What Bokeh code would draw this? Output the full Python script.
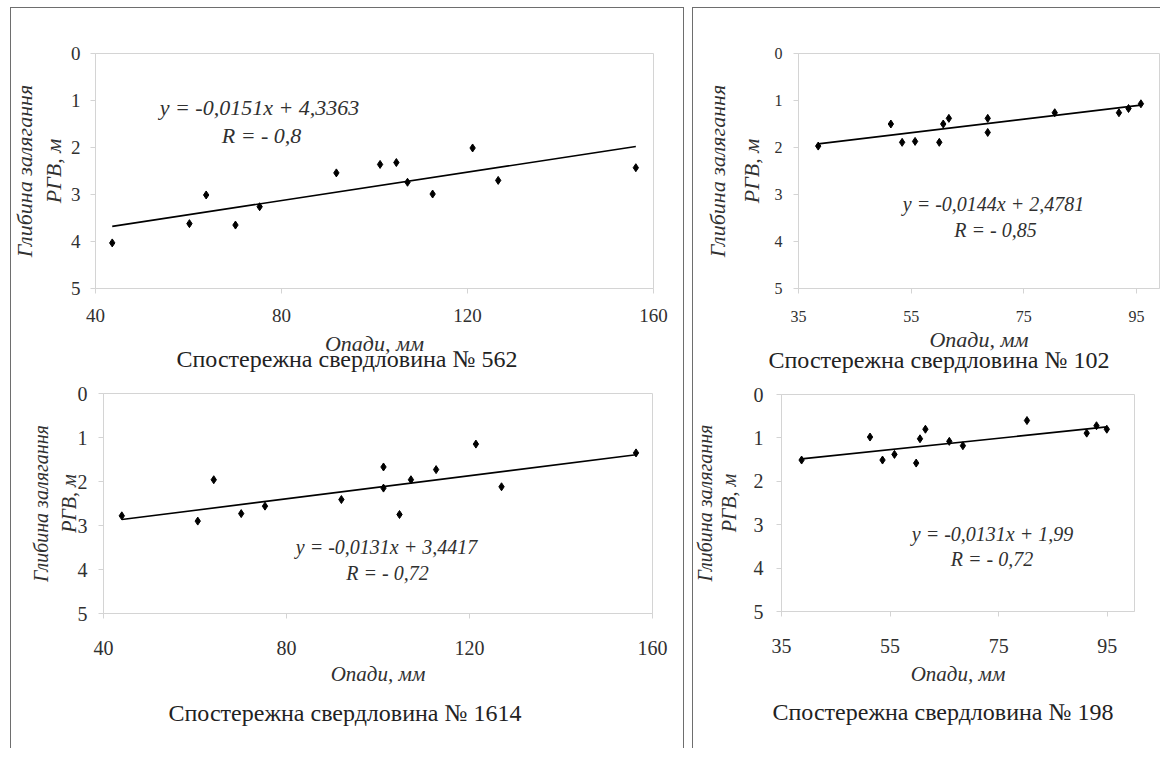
from bokeh.plotting import figure
from bokeh.models import Range1d, FixedTicker, Label, Title
from bokeh.layouts import row, column
from bokeh.embed import file_html
from bokeh.resources import INLINE

# ---------------- data ----------------
x_562 = [43.6, 60.2, 63.8, 70.1, 75.3, 91.8, 101.2, 104.7, 107.1, 112.5, 121.1, 126.6, 156.2]
y_562 = [4.03, 3.62, 3.01, 3.65, 3.26, 2.54, 2.36, 2.32, 2.74, 2.99, 2.01, 2.70, 2.43]
fit_562 = (-0.0151, 4.3363)

x_102 = [38.5, 51.4, 53.4, 55.7, 60.0, 60.7, 61.7, 68.6, 68.6, 80.5, 91.9, 93.6, 95.8]
y_102 = [1.97, 1.50, 1.89, 1.87, 1.89, 1.50, 1.38, 1.38, 1.68, 1.26, 1.26, 1.17, 1.07]
fit_102 = (-0.0144, 2.4781)

x_1614 = [44.0, 60.6, 64.1, 70.1, 75.3, 92.0, 101.2, 101.2, 104.7, 107.2, 112.7, 121.4, 127.0, 156.4]
y_1614 = [2.78, 2.90, 1.96, 2.73, 2.56, 2.41, 1.67, 2.15, 2.75, 1.96, 1.73, 1.15, 2.12, 1.35]
fit_1614 = (-0.0131, 3.4417)

x_198 = [38.7, 51.3, 53.6, 55.8, 59.8, 60.5, 61.5, 65.9, 68.4, 80.2, 91.2, 93.0, 94.9]
y_198 = [1.51, 0.98, 1.51, 1.38, 1.58, 1.02, 0.80, 1.08, 1.18, 0.60, 0.89, 0.72, 0.80]
fit_198 = (-0.0131, 1.99)

xticks_a = [40, 80, 120, 160]
xticks_b = [35, 55, 75, 95]
yticks = [0, 1, 2, 3, 4, 5]

eq_562 = ["y = -0,0151x + 4,3363", "R = - 0,8"]
eq_102 = ["y = -0,0144x + 2,4781", "R = - 0,85"]
eq_1614 = ["y = -0,0131x + 3,4417", "R = - 0,72"]
eq_198 = ["y = -0,0131x + 1,99", "R = -  0,72"]

title_562 = "Спостережна свердловина № 562"
title_102 = "Спостережна свердловина № 102"
title_1614 = "Спостережна свердловина № 1614"
title_198 = "Спостережна свердловина № 198"

x_title = "Опади, мм"
y_title = "Глибина залягання\nРГВ, м"

SERIF = "Liberation Serif"
LIGHT = "#d4d4d4"
TXT = "#303030"


def eq_label(p, text, x, y, size):
    p.add_layout(Label(x=x, y=y, x_units="screen", y_units="screen", text=text,
                       text_font=SERIF, text_font_size=f"{size}px", text_font_style="italic",
                       text_color=TXT, text_align="center", text_baseline="middle"))


def panel(xs, ys, fit, xr, xt, eq, title, g):
    p = figure(width=g["w"], height=g["h"], output_backend="svg", toolbar_location=None,
               x_range=Range1d(*xr), y_range=Range1d(5, 0), frame_align=False,
               min_border_left=g["bl"], min_border_right=g["br"],
               min_border_top=g["bt"], min_border_bottom=g["bb"],
               background_fill_color=None, border_fill_color=None)
    p.grid.visible = False
    p.outline_line_color = LIGHT
    p.outline_line_width = 1
    xa, ya = p.xaxis[0], p.yaxis[0]
    for ax, ticks, st in ((xa, xt, g["xst"]), (ya, yticks, g["yst"])):
        ax.ticker = FixedTicker(ticks=ticks)
        ax.axis_line_color = LIGHT
        ax.major_tick_line_color = LIGHT
        ax.major_tick_out = 5
        ax.major_tick_in = 0
        ax.minor_tick_line_color = None
        ax.major_label_text_font = SERIF
        ax.major_label_text_font_size = f"{g['tfs']}px"
        ax.major_label_text_color = TXT
        ax.major_label_standoff = st
        ax.axis_label_text_font = SERIF
        ax.axis_label_text_font_style = "italic"
        ax.axis_label_text_color = TXT
    xa.axis_label = x_title
    xa.axis_label_text_font_size = f"{g['xlfs']}px"
    xa.axis_label_standoff = g["xls"]
    ya.axis_label = y_title
    ya.axis_label_text_font_size = f"{g['ylfs']}px"
    ya.axis_label_standoff = g["yls"]
    ya.axis_label_text_line_height = g["ylh"]

    m, b = fit
    lx = [min(xs), max(xs)]
    ly = [m * v + b for v in lx]
    p.line(lx, ly, line_color="black", line_width=1.6)
    p.scatter(xs, ys, marker="diamond", size=8, color="black")

    e = g["eq"]
    eq_label(p, eq[0], e[0], e[1], g["efs"])
    eq_label(p, eq[1], e[2], e[3], g["efs"])

    p.add_layout(Title(text=title, align="left", offset=g["toff"], standoff=g["tst"],
                       vertical_align="middle", text_font=SERIF, text_font_size="24px",
                       text_font_style="normal", text_color="#222222"), "below")
    return p


g1 = dict(w=684, h=380, bl=95, br=31, bt=53, bb=92, tfs=19, xst=15, yst=10,
          xlfs=22, xls=6, ylfs=22, yls=2, ylh=1.17, efs=22,
          eq=(164, 181, 166, 153), toff=81, tst=-31)
g2 = dict(w=476, h=380, bl=114, br=1, bt=53, bb=92, tfs=16, xst=17, yst=11,
          xlfs=22, xls=2, ylfs=22, yls=8, ylh=1.36, efs=20,
          eq=(195, 85, 197, 59), toff=-30, tst=-17)
g3 = dict(w=684, h=368, bl=103, br=32, bt=13, bb=135, tfs=20, xst=22, yst=11,
          xlfs=21, xls=4, ylfs=20, yls=-5, ylh=1.24, efs=20,
          eq=(283, 67, 284, 41), toff=65, tst=20)
g4 = dict(w=476, h=368, bl=97, br=26, bt=14, bb=137, tfs=20, xst=22, yst=13,
          xlfs=21, xls=6, ylfs=20, yls=11, ylh=1.07, efs=20,
          eq=(211, 78, 213, 53), toff=-9, tst=18)

p1 = panel(x_562, y_562, fit_562, (40, 160), xticks_a, eq_562, title_562, g1)
p2 = panel(x_102, y_102, fit_102, (35, 99.1), xticks_b, eq_102, title_102, g2)
p3 = panel(x_1614, y_1614, fit_1614, (40, 160), xticks_a, eq_1614, title_1614, g3)
p4 = panel(x_198, y_198, fit_198, (35, 100), xticks_b, eq_198, title_198, g4)

LINE = "#6e6e6e"
left_shadow = (f"inset 10px 0 0 0 #ffffff, inset 0 7px 0 0 #ffffff, "
               f"inset 11px 0 0 0 {LINE}, inset 0 8px 0 0 {LINE}, inset -1px 0 0 0 {LINE}")
right_shadow = (f"inset 8px 0 0 0 #ffffff, inset 0 7px 0 0 #ffffff, "
                f"inset 9px 0 0 0 {LINE}, inset 0 8px 0 0 {LINE}")
left = column(p1, p3, styles={"box-shadow": left_shadow, "flex-shrink": "0"})
right = column(p2, p4, styles={"box-shadow": right_shadow, "flex-shrink": "0"})
layout = row(left, right)

open("out.html", "w").write(file_html(layout, INLINE))
